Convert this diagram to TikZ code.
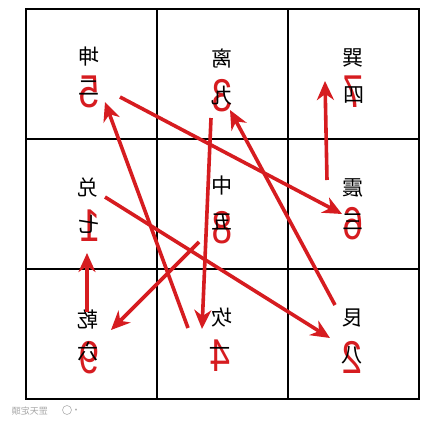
\documentclass[tikz,border=0pt]{standalone}
\usepackage{fontspec}
\setmainfont{Liberation Sans}
\newfontfamily\cjk{Noto Sans CJK SC}
\usetikzlibrary{arrows.meta}
\definecolor{rd}{RGB}{214,28,32}
\newcommand{\mir}[1]{\scalebox{-1}[1]{#1}}
\newcommand{\mird}[1]{\scalebox{-0.8}[1]{#1}}
\begin{document}
\begin{tikzpicture}[x=1pt,y=-1pt,
  gua/.style={font=\cjk\fontsize{21}{21}\selectfont, inner sep=0pt},
  cnum/.style={font=\cjk\fontsize{21}{21}\selectfont, inner sep=0pt},
  rnum/.style={font=\fontsize{46}{46}\selectfont, text=rd, inner sep=0pt},
  fly/.style={draw=rd, line width=3.6pt, -{Stealth[length=19pt,width=17pt,inset=6pt]}},
  gridline/.style={line width=2.6pt, line cap=rect},
  wm/.style={font=\cjk\fontsize{9}{9}\selectfont, text=black!35, inner sep=0pt}]
\useasboundingbox (0,0) rectangle (436,428);
\fill[white] (0,0) rectangle (436,428);
% grid
\draw[gridline] (26,9) rectangle (419,399);
\draw[gridline] (157,9) -- (157,399);
\draw[gridline] (288,9) -- (288,399);
\draw[gridline] (26,139) -- (419,139);
\draw[gridline] (26,269) -- (419,269);
% red numerals
\node[rnum] (r5) at (89,92) {\mird{5}};
\node[rnum] (r3) at (222,96) {\mird{3}};
\node[rnum] (r7) at (353,92) {\mird{7}};
\node[rnum] (r1) at (90,226) {\mird{1}};
\node[rnum] (r8) at (222,228) {\mird{8}};
\node[rnum] (r6) at (353,224) {\mird{6}};
\node[rnum] (r9) at (89,358) {\mird{9}};
\node[rnum] (r4) at (220,356) {\mird{4}};
\node[rnum] (r2) at (352,357) {\mird{2}};
% trigram names
\node[gua] (kun) at (89,57) {\mir{坤}};
\node[gua] (li) at (222,58) {\mir{离}};
\node[gua] (xun) at (353,58) {\mir{巽}};
\node[gua] (dui) at (88,188) {\mir{兑}};
\node[gua] (zhong) at (222,186) {\mir{中}};
\node[gua] (zhen) at (353,188) {\mir{震}};
\node[gua] (qian) at (88,320) {\mir{乾}};
\node[gua] (kan) at (222,318) {\mir{坎}};
\node[gua] (gen) at (353,318) {\mir{艮}};
% chinese numerals
\node[cnum] (c2) at (89,88) {\mir{二}};
\node[cnum] (c9) at (222,96) {\mir{九}};
\node[cnum] (c4) at (354,95) {\mir{四}};
\node[cnum] (c7) at (89,224) {\mir{七}};
\node[cnum] (c5) at (222,222) {\mir{五}};
\node[cnum] (c3) at (353,222) {\mir{三}};
\node[cnum] (c6) at (88,352) {\mir{六}};
\node[cnum] (c1) at (220,352) {\mir{一}};
\node[cnum] (c8) at (352,355) {\mir{八}};
% path points
\coordinate (s1) at (105,197);
\coordinate (t2) at (330,338);
\coordinate (s2) at (335,305);
\coordinate (t3) at (230,110);
\coordinate (s3) at (211,118);
\coordinate (t4) at (202,329);
\coordinate (s4) at (188,328);
\coordinate (t5) at (105,102);
\coordinate (s5) at (120,97);
\coordinate (t6) at (342,214);
\coordinate (s6) at (327,180);
\coordinate (t7) at (325,81);
\coordinate (s8) at (199,242);
\coordinate (t9) at (111,330);
\coordinate (s9) at (87,312);
\coordinate (t1) at (87,253);
\draw[fly] (s1) -- (t2);
\draw[fly] (s2) -- (t3);
\draw[fly] (s3) -- (t4);
\draw[fly] (s4) -- (t5);
\draw[fly] (s5) -- (t6);
\draw[fly] (s6) -- (t7);
\draw[fly] (s8) -- (t9);
\draw[fly] (s9) -- (t1);
% watermark
\node[wm] (wmtext) at (30,411) {\mir{罡天定頭}};
\draw[black!30, line width=0.6pt] (67,410) circle (4.5);
\node[wm] (wmmark) at (76,411) {\mir{·}};
\end{tikzpicture}
\end{document}
